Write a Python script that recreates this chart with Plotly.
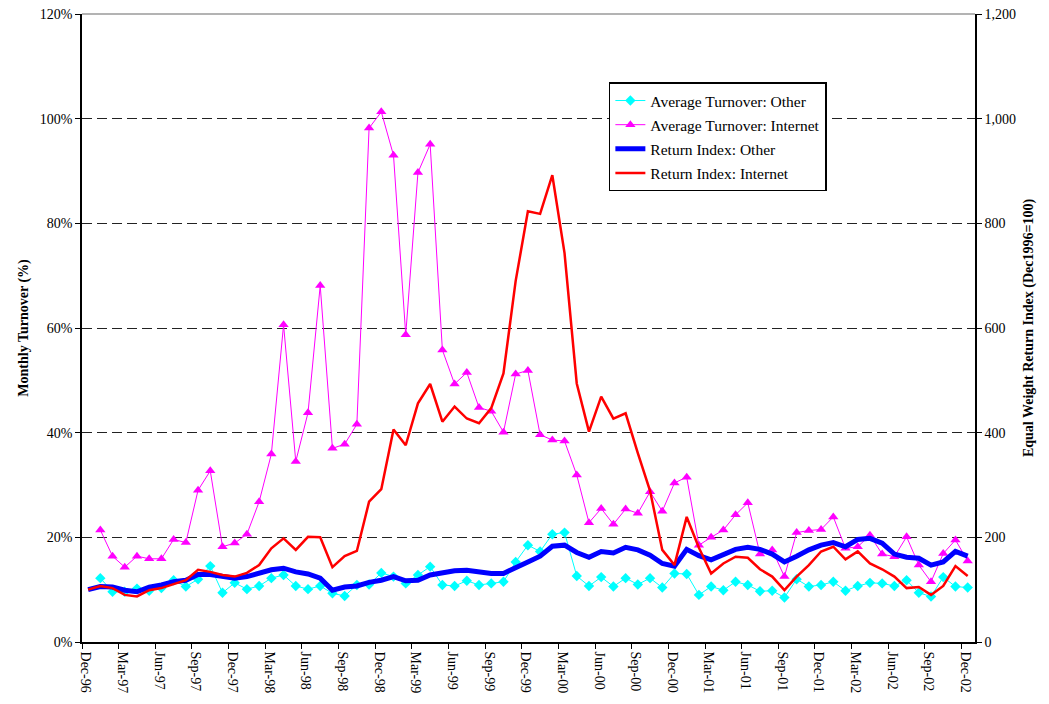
import plotly.graph_objects as go
import pandas as pd

# Month categories (Dec-96 .. Dec-02)
months = list(pd.date_range("1996-12-01", periods=73, freq="MS").strftime("%b-%y"))

# Monthly turnover (%)
turn_other = [None, 12.2, 9.6, 9.6, 10.2, 9.8, 10.3, 11.8, 10.6, 12.0,
              14.5, 9.4, 11.3, 10.1, 10.7, 12.2, 12.8, 10.7, 10.1, 10.7,
              9.3, 8.8, 10.9, 11.0, 13.2, 12.5, 11.2, 12.8, 14.4, 10.9,
              10.7, 11.7, 10.9, 11.2, 11.5, 15.3, 18.5, 17.3, 20.6, 20.9,
              12.6, 10.7, 12.4, 10.6, 12.2, 11.0, 12.2, 10.4, 13.1, 13.0,
              9.0, 10.6, 9.9, 11.5, 10.9, 9.7, 9.8, 8.5, 12.0, 10.6,
              10.9, 11.5, 9.8, 10.7, 11.3, 11.2, 10.7, 11.8, 9.4, 8.7,
              12.4, 10.6, 10.4]
turn_internet = [None, 21.4, 16.4, 14.3, 16.4, 15.9, 15.9, 19.6, 19.0, 29.0,
                 32.7, 18.2, 18.9, 20.6, 26.8, 35.9, 60.6, 34.5, 43.8, 68.1,
                 37.0, 37.8, 41.6, 98.2, 101.3, 93.0, 58.7, 89.7, 95.1, 55.8,
                 49.3, 51.5, 44.8, 44.1, 40.1, 51.2, 51.9, 39.6, 38.6, 38.4,
                 31.9, 22.8, 25.5, 22.5, 25.4, 24.6, 28.7, 25.0, 30.4, 31.5,
                 18.5, 20.0, 21.4, 24.3, 26.6, 16.8, 17.6, 12.5, 20.9, 21.3,
                 21.5, 23.9, 17.9, 18.2, 20.4, 16.8, 16.3, 20.1, 14.7, 11.5,
                 16.9, 19.5, 15.5]

# Equal weight return index (Dec1996 = 100)
ret_other = [100, 106, 105, 99, 96, 105, 109, 115, 118, 129,
             129, 125, 122, 125, 131, 138, 141, 134, 130, 122,
             99, 105, 107, 114, 118, 125, 117, 118, 128, 132,
             136, 137, 134, 131, 131, 143, 153, 164, 183, 185,
             171, 162, 173, 170, 181, 176, 166, 150, 145, 177,
             165, 157, 168, 177, 181, 177, 168, 153, 164, 176,
             185, 190, 182, 196, 198, 189, 168, 162, 160, 147,
             153, 173, 164]
ret_internet = [100, 107, 103, 90, 87, 99, 103, 111, 118, 138,
                134, 128, 125, 132, 147, 179, 198, 176, 201, 200,
                143, 164, 174, 268, 292, 406, 376, 456, 493, 421,
                450, 427, 418, 447, 513, 690, 823, 818, 892, 743,
                494, 402, 469, 427, 437, 361, 289, 176, 147, 239,
                180, 131, 150, 163, 161, 139, 125, 99, 125, 147,
                173, 182, 158, 173, 150, 139, 125, 103, 105, 90,
                107, 145, 126]

left_ticks = [0, 20, 40, 60, 80, 100, 120]
right_ticks = [0, 200, 400, 600, 800, 1000, 1200]

x = list(range(len(months)))
tick_idx = list(range(0, len(months), 3))

FONT = "Liberation Serif, Times New Roman, serif"

fig = go.Figure()
fig.add_trace(go.Scatter(
    x=x, y=turn_other, name="Average Turnover: Other", mode="lines+markers",
    line=dict(color="#00FFFF", width=1),
    marker=dict(symbol="diamond", size=8, color="#00FFFF"),
    legendgroup="a"))
fig.add_trace(go.Scatter(
    x=x, y=turn_internet, name="Average Turnover: Internet", mode="lines+markers",
    line=dict(color="#FF00FF", width=1),
    marker=dict(symbol="triangle-up", size=9, color="#FF00FF"),
    legendgroup="b"))
fig.add_trace(go.Scatter(
    x=x, y=ret_other, name="Return Index: Other", mode="lines",
    line=dict(color="#0000FF", width=5), yaxis="y2", legendgroup="c"))
fig.add_trace(go.Scatter(
    x=x, y=ret_internet, name="Return Index: Internet", mode="lines",
    line=dict(color="#FF0000", width=2.5), yaxis="y2", legendgroup="d"))

fig.update_layout(
    width=1041, height=696,
    margin=dict(l=74, r=74, t=6, b=62, autoexpand=False),
    paper_bgcolor="white", plot_bgcolor="white",
    font=dict(family=FONT, size=14, color="black"),
    showlegend=True,
    legend=dict(x=0.59, y=0.891, xanchor="left", yanchor="top",
                bgcolor="white", bordercolor="black", borderwidth=1.5,
                font=dict(family=FONT, size=15.5, color="black"),
                tracegroupgap=1, itemwidth=30),
    xaxis=dict(
        range=[-0.5, 72.6], tickmode="array",
        tickvals=[i - 0.5 for i in tick_idx],
        ticktext=[months[i] for i in tick_idx],
        tickangle=90, ticks="outside", ticklen=5, tickcolor="black",
        ticklabelshift=4,
        showline=True, linecolor="black", linewidth=1.5,
        showgrid=False, zeroline=False, automargin=False,
        tickfont=dict(family=FONT, size=14, color="black")),
    yaxis=dict(
        range=[0, 120], tickmode="array", tickvals=left_ticks,
        ticktext=[f"{v}%" for v in left_ticks],
        ticks="outside", ticklen=5, tickcolor="black",
        ticklabeloverflow="allow",
        showline=True, linecolor="black", linewidth=1.5,
        showgrid=True, gridcolor="#222222", griddash="10px,5px", gridwidth=1.4,
        zeroline=False, automargin=False,
        title=dict(text="<b>Monthly Turnover (%)</b>", standoff=8,
                   font=dict(family=FONT, size=14, color="black")),
        tickfont=dict(family=FONT, size=14, color="black")),
    yaxis2=dict(
        range=[0, 1200], overlaying="y", side="right", tickmode="array",
        tickvals=right_ticks, ticktext=[f"{v:,}" for v in right_ticks],
        ticks="outside", ticklen=5, tickcolor="black",
        ticklabeloverflow="allow",
        showline=True, linecolor="black", linewidth=1.5,
        showgrid=False, zeroline=False, automargin=False,
        title=dict(text="<b>Equal Weight Return Index (Dec1996=100)</b>", standoff=8,
                   font=dict(family=FONT, size=14, color="black")),
        tickfont=dict(family=FONT, size=14, color="black")),
    shapes=[dict(type="line", xref="paper", yref="paper", x0=0, x1=1, y0=1, y1=1,
                 line=dict(color="#9a9a9a", width=1.5), layer="above")],
)

fig.write_html("out.html")
